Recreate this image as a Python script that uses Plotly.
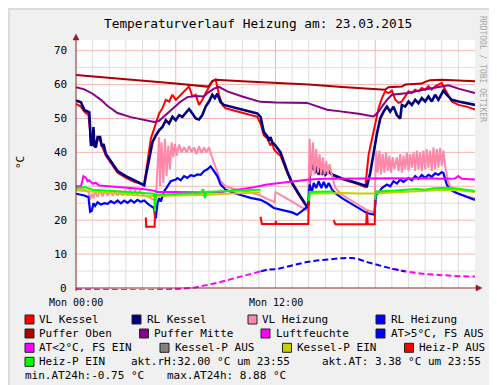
import plotly.graph_objects as go

# ---------------- data (hours since Mon 00:00) ----------------
vl_kessel_t = [0, 0.3, 0.5, 0.75, 0.85, 0.9, 1.0, 1.05, 1.1, 1.3, 1.45, 1.55, 1.8, 2.1, 2.5, 3.0, 3.5, 4.1, 4.3, 4.5,
               4.7, 4.9, 5.0, 5.2, 5.4, 5.6, 5.8, 6.0, 6.2, 6.4, 6.6, 6.8, 7.0, 7.2, 7.4, 7.6, 7.8, 8.0, 8.2, 8.4,
               8.6, 8.8, 9.0, 10.0, 10.9, 11.1, 11.3, 11.5, 11.7, 11.8, 11.9, 12.0, 12.3, 12.7, 13.0, 13.5, 13.9, 14.0, 14.05, 14.2,
               14.3, 14.4, 14.5, 14.6, 14.7, 14.8, 14.9, 15.0, 15.2, 15.4, 16.0, 17.0, 17.4, 17.6, 17.8, 18.0, 18.2, 18.4, 18.6, 18.8,
               19.0, 19.2, 19.4, 19.6, 19.8, 20.0, 20.2, 20.4, 20.6, 20.8, 21.0, 21.2, 21.4, 21.6, 21.8, 22.0, 22.1, 22.3, 22.6, 23.0,
               23.5, 24.0]
vl_kessel = [54.3, 53.5, 52.0, 51.0, 46.0, 42.5, 43.0, 46.5, 42.5, 44.0, 43.5, 42.0, 39.0, 36.8, 34.0, 32.5, 31.3, 30.5, 38.0, 44.0,
             47.0, 50.0, 51.5, 53.0, 55.5, 55.0, 57.0, 55.5, 56.5, 57.5, 58.5, 59.5, 56.5, 57.0, 54.0, 55.5, 57.5, 59.5, 61.0, 61.5,
             57.0, 54.0, 53.0, 51.7, 50.5, 48.5, 45.0, 44.2, 42.0, 43.0, 41.0, 40.3, 39.0, 34.0, 30.7, 26.7, 23.7, 24.7, 35.7, 34.8,
             36.3, 33.8, 35.8, 33.3, 35.3, 33.3, 34.8, 33.3, 34.3, 33.3, 32.1, 30.6, 29.8, 39.3, 44.0, 48.2, 53.0, 56.0, 58.0, 57.5,
             58.2, 55.6, 54.6, 55.0, 56.5, 58.0, 57.5, 58.5, 58.0, 59.0, 58.5, 59.5, 58.5, 59.5, 60.0, 60.5, 59.5, 57.5, 55.0, 54.0,
             53.5, 52.6]

rl_kessel_t = [0, 0.3, 0.5, 0.8, 0.85, 0.9, 1.0, 1.05, 1.1, 1.2, 1.3, 1.45, 1.55, 1.65, 1.8, 2.1, 2.5, 3.0, 3.5, 4.1,
               4.2, 4.4, 4.6, 4.8, 5.0, 5.2, 5.4, 5.6, 5.8, 6.0, 6.2, 6.4, 6.6, 6.8, 7.0, 7.2, 7.4, 7.6, 7.8, 8.0,
               8.2, 8.35, 8.5, 8.7, 8.9, 9.5, 10.0, 10.5, 10.9, 11.1, 11.3, 11.5, 11.6, 11.7, 11.8, 12.0, 12.3, 12.7, 13.0, 13.5,
               13.9, 14.0, 14.05, 14.2, 14.3, 14.4, 14.5, 14.6, 14.7, 14.8, 14.9, 15.0, 15.2, 15.4, 16.0, 17.0, 17.5, 17.7, 17.9, 18.1,
               18.3, 18.5, 18.7, 18.9, 19.1, 19.3, 19.5, 19.6, 19.8, 20.0, 20.2, 20.4, 20.6, 20.8, 21.0, 21.2, 21.4, 21.6, 21.8, 22.0,
               22.1, 22.3, 22.6, 23.0, 23.5, 24.0]
rl_kessel = [55.3, 54.8, 52.5, 51.8, 47.0, 42.0, 42.5, 47.5, 42.0, 41.5, 44.5, 44.5, 41.8, 42.5, 39.5, 37.5, 34.5, 33.0, 31.8, 30.3,
             33.0, 38.5, 43.0, 45.0, 46.5, 47.5, 49.5, 48.5, 50.5, 49.5, 51.0, 50.5, 51.5, 52.8, 51.5, 50.0, 49.7, 51.0, 53.5, 55.0,
             57.0, 56.0, 57.3, 54.8, 54.0, 53.2, 52.5, 52.0, 51.5, 50.5, 46.0, 44.8, 43.5, 44.5, 43.0, 42.0, 40.0, 34.5, 31.0, 27.0,
             24.0, 25.0, 36.0, 35.0, 36.5, 34.0, 36.0, 33.5, 35.5, 33.5, 35.0, 33.5, 34.5, 33.5, 32.3, 30.8, 30.0, 34.0, 40.0, 45.5,
             50.0, 52.0, 53.5, 52.0, 53.5, 51.0, 50.0, 54.0, 53.5, 55.0, 54.0, 55.5, 54.5, 56.0, 55.0, 56.5, 55.0, 57.0, 55.5, 57.5,
             58.2, 57.0, 55.5, 55.0, 54.5, 54.0]

vl_heizung_t = [0, 0.3, 0.5, 0.75, 0.85, 0.95, 1.05, 1.15, 1.3, 1.45, 1.6, 1.75, 1.9, 2.05, 2.2, 2.35, 2.5, 2.65, 2.8, 2.95,
                3.1, 3.25, 3.4, 3.55, 3.7, 3.85, 4.0, 4.3, 4.6, 4.8, 4.9, 5.0, 5.05, 5.15, 5.25, 5.35, 5.45, 5.55, 5.65, 5.75,
                5.85, 5.95, 6.05, 6.2, 6.35, 6.5, 6.65, 6.8, 6.95, 7.1, 7.25, 7.4, 7.55, 7.7, 7.85, 8.0, 8.15, 8.3, 8.5, 8.7,
                9.0, 9.5, 10.0, 10.5, 11.0, 11.5, 11.95, 12.0, 12.5, 13.0, 13.5, 13.95, 14.0, 14.05, 14.15, 14.25, 14.35, 14.45, 14.55, 14.65,
                14.75, 14.85, 14.95, 15.05, 15.15, 15.25, 15.4, 15.6, 16.0, 16.5, 17.0, 17.5, 17.95, 18.0, 18.05, 18.15, 18.25, 18.35, 18.45, 18.55,
                18.65, 18.75, 18.85, 18.95, 19.05, 19.15, 19.3, 19.4, 19.5, 19.6, 19.7, 19.8, 19.9, 20.0, 20.1, 20.2, 20.3, 20.4, 20.5, 20.6,
                20.7, 20.8, 20.9, 21.0, 21.1, 21.2, 21.3, 21.4, 21.5, 21.6, 21.7, 21.8, 21.9, 22.0, 22.1, 22.2, 22.4, 22.7, 23.0, 23.5,
                24.0]
vl_heizung = [29.5, 29.3, 29.0, 28.5, 26.0, 27.8, 26.5, 28.5, 26.8, 28.8, 27.0, 28.8, 27.2, 28.8, 27.2, 28.8, 27.3, 28.8, 27.3, 28.8,
              27.3, 28.8, 27.4, 28.7, 27.5, 28.6, 27.5, 27.0, 26.2, 26.0, 34.0, 44.5, 30.0, 43.0, 31.0, 44.0, 33.0, 42.0, 35.0, 43.0,
              38.5, 42.5, 39.0, 42.3, 40.0, 41.5, 40.0, 41.8, 40.2, 41.5, 39.5, 41.8, 39.8, 41.5, 40.0, 41.5, 39.0, 37.0, 34.0, 31.5,
              30.0, 29.2, 28.7, 28.2, 27.5, 26.3, 25.3, 28.3, 27.0, 25.5, 24.0, 22.8, 30.0, 44.0, 33.0, 43.0, 33.5, 41.0, 34.0, 39.5,
              33.5, 38.5, 33.5, 37.5, 33.5, 36.5, 33.0, 29.5, 27.5, 26.0, 24.5, 23.0, 22.3, 30.0, 40.5, 34.0, 40.5, 33.5, 39.5, 34.0,
              40.0, 34.5, 39.0, 34.0, 38.5, 35.0, 38.5, 34.5, 39.5, 34.0, 39.0, 35.0, 40.0, 34.5, 39.5, 35.5, 40.0, 34.5, 40.5, 35.0,
              40.0, 34.5, 40.5, 35.0, 41.0, 35.5, 40.5, 34.5, 41.5, 35.0, 41.0, 35.5, 41.3, 36.0, 40.5, 36.0, 31.0, 28.5, 27.8, 27.0,
              26.5]

rl_heizung_t = [0, 0.5, 0.75, 0.8, 0.85, 0.95, 1.05, 1.15, 1.3, 1.5, 1.7, 1.9, 2.1, 2.3, 2.5, 2.7, 2.9, 3.1, 3.3, 3.5,
                3.7, 3.9, 4.1, 4.4, 4.7, 4.75, 4.8, 4.9, 5.0, 5.1, 5.3, 5.5, 5.7, 6.0, 6.1, 6.3, 6.5, 6.7, 6.9, 7.1,
                7.3, 7.5, 7.7, 7.9, 8.1, 8.3, 8.5, 8.7, 9.0, 9.5, 10.0, 10.5, 11.1, 11.5, 11.9, 12.5, 13.0, 13.3, 13.6, 13.95,
                14.0, 14.05, 14.2, 14.3, 14.45, 14.6, 14.75, 14.9, 15.05, 15.2, 15.4, 15.6, 16.0, 16.5, 17.0, 17.5, 17.95, 18.05, 18.2, 18.4,
                18.7, 18.9, 19.1, 19.3, 19.5, 19.7, 20.0, 20.2, 20.4, 20.6, 20.8, 21.0, 21.2, 21.4, 21.6, 21.8, 22.0, 22.1, 22.3, 22.5,
                22.9, 23.5, 24.0]
rl_heizung = [27.8, 27.3, 26.8, 24.0, 22.5, 22.8, 25.0, 24.2, 25.3, 24.6, 25.0, 24.8, 25.6, 25.0, 25.8, 25.0, 25.8, 25.1, 25.9, 25.2,
              26.0, 25.4, 25.8, 24.5, 23.6, 21.5, 20.5, 25.0, 26.5, 25.5, 28.5, 30.0, 31.5, 32.0, 32.4, 31.8, 33.0, 32.5, 33.3, 33.0,
              33.5, 33.4, 34.5, 35.0, 35.9, 34.5, 33.0, 30.5, 29.0, 28.0, 27.3, 26.6, 26.0, 25.0, 23.6, 23.0, 22.3, 21.6, 22.8, 24.1,
              26.0, 30.5, 28.5, 31.0, 29.5, 31.5, 29.5, 31.3, 29.5, 31.0, 29.0, 28.0, 26.5, 25.0, 23.5, 22.1, 21.6, 27.5, 28.0, 29.5,
              30.5, 30.0, 31.5, 30.8, 32.0, 31.3, 32.4, 31.8, 33.0, 32.2, 33.3, 32.5, 33.4, 32.8, 33.8, 33.4, 34.2, 33.9, 30.5, 29.0,
              28.0, 26.8, 26.0]

puffer_oben_t = [0, 2, 4, 6, 7.9, 8.0, 8.2, 8.4, 10, 12, 14, 16, 18, 18.6, 18.8, 19.6, 19.8, 20.8, 21.0, 21.3, 22, 23, 24]
puffer_oben = [62.8, 62.0, 61.1, 60.3, 59.4, 59.6, 61.0, 61.4, 61.0, 60.6, 60.0, 59.3, 58.7, 58.5, 59.2, 59.4, 60.0, 60.3, 60.8, 61.3,
               61.4, 61.2, 61.0]

puffer_mitte_t = [0, 0.5, 1.0, 1.5, 1.9, 2.5, 3.3, 4.0, 4.7, 5.0, 5.5, 5.9, 6.3, 6.7, 7.2, 7.7, 7.9, 8.3, 8.6, 9.1,
                  10.0, 11.1, 12.0, 13.9, 14.5, 15.1, 15.9, 17.0, 17.9, 18.2, 18.4, 18.7, 19.0, 20.0, 20.9, 22.0, 22.4, 23.0, 24.0]
puffer_mitte = [59.2, 58.6, 57.3, 55.5, 53.7, 51.6, 50.4, 49.8, 49.0, 49.3, 51.5, 53.1, 55.0, 56.3, 56.6, 56.5, 57.5, 58.8, 59.3, 58.0,
                56.5, 54.9, 54.7, 54.6, 53.6, 52.6, 52.1, 51.4, 50.6, 52.0, 53.5, 55.5, 57.0, 57.5, 58.5, 59.5, 59.8, 58.8, 57.5]

luftfeuchte_t = [0, 0.3, 0.45, 0.6, 0.7, 0.8, 1.0, 1.2, 1.4, 2.0, 3.0, 4.0, 4.6, 4.9, 6.0, 7.0, 8.0, 8.8, 9.0, 10.0,
                 10.7, 11.5, 12.0, 12.5, 13.0, 13.5, 14.0, 15.0, 16.0, 17.0, 18.0, 19.0, 20.0, 21.0, 22.0, 22.8, 23.0, 23.2, 24.0]
luftfeuchte = [30.0, 30.0, 33.0, 32.5, 31.5, 31.8, 30.8, 31.0, 30.2, 30.0, 29.5, 29.2, 28.8, 28.3, 28.3, 28.2, 28.2, 28.3, 28.5, 29.2,
               29.7, 30.5, 30.8, 31.2, 31.5, 31.8, 32.0, 32.2, 32.3, 32.3, 32.3, 32.4, 32.3, 32.4, 32.2, 32.3, 33.0, 32.2, 32.0]

aussen_t = [0, 1, 2, 3, 4, 5, 6, 7.1, 7.9, 8.5, 9.0, 9.9, 10.3, 11.1, 11.5, 12.1, 12.9, 13.9, 14.5, 15.0,
            16.0, 16.6, 17.0, 17.6, 18.4, 19.0, 19.8, 21.0, 22.0, 23.0, 24.0]
aussen = [-0.4, -0.4, -0.5, -0.6, -0.7, -0.6, -0.3, 0.1, 0.8, 1.5, 2.2, 3.4, 3.9, 4.9, 5.4, 5.6, 6.6, 7.7, 8.1, 8.4,
          8.8, 8.88, 8.5, 7.5, 6.4, 5.7, 4.9, 4.1, 3.7, 3.5, 3.38]
at_limit = 5.0

kessel_p_ein_t = [0, 1, 2, 3, 4, 4.7, 6, 7, 8, 9, 10, 11.1, 12.5, 14.0, 15.5, 16.0, 17.0, 18.0, 19, 20,
                  21, 22, 23, 24]
kessel_p_ein = [28.8, 28.4, 27.8, 27.5, 27.2, 27.1, 27.2, 27.3, 27.5, 27.8, 28.0, 28.2, None, 27.8, 28.0, 28.0, 27.9, 27.9, 28.2, 28.4,
                28.6, 28.9, 28.8, 28.3]

heiz_p_aus_t = [4.2, 4.22, 4.73, 4.75, 8.0, 11.1, 11.18, 12.0, 12.02, 12.05, 13.97, 14.0, 14.8, 15.5, 15.6, 17.45, 17.5, 17.55, 17.97, 18.0]
heiz_p_aus = [20.8, 18.1, 18.1, 22.6, None, 21.0, 18.9, 18.9, 19.8, 18.9, 18.9, 25.6, None, 20.0, 18.8, 18.8, 22.6, 18.8, 18.8, 26.0]

heiz_p_ein_t = [0, 0.5, 1.0, 2.0, 3.0, 4.0, 4.7, 4.75, 4.8, 5.5, 6.5, 7.5, 7.65, 7.75, 7.85, 8.5, 9.5, 10.5, 11.1, 12.5,
                14.0, 14.05, 14.7, 15.45, 16.5, 18.0, 18.05, 19.0, 20.0, 20.5, 21.0, 21.5, 22.0, 22.5, 23.0, 23.5, 24.0]
heiz_p_ein = [29.5, 29.8, 29.0, 28.6, 28.3, 28.0, 27.8, 22.6, 27.5, 27.6, 27.8, 28.0, 29.2, 26.5, 28.3, 28.5, 28.7, 28.9, 29.0, None,
              25.6, 28.3, 28.4, 28.5, None, 26.0, 28.5, 28.7, 28.9, 29.2, 29.0, 29.4, 29.5, 29.6, 29.3, 29.0, 28.6]

y_ticks = [0, 10, 20, 30, 40, 50, 60, 70]
x_ticks = [0, 12]
x_tick_labels = ["Mon 00:00", "Mon 12:00"]

legend_items = [
    ("VL Kessel", "#FF0000"), ("RL Kessel", "#000080"), ("VL Heizung", "#FF88AA"), ("RL Heizung", "#0000FF"),
    ("Puffer Oben", "#AA0000"), ("Puffer Mitte", "#880088"), ("Luftfeuchte", "#FF00FF"), ("AT>5°C, FS AUS", "#0000FF"),
    ("AT<2°C, FS EIN", "#FF00FF"), ("Kessel-P AUS", "#808080"), ("Kessel-P EIN", "#CCCC00"), ("Heiz-P AUS", "#FF0000"),
    ("Heiz-P EIN", "#00FF00"),
]
legend_texts = ["akt.rH:32.00 °C um 23:55", "akt.AT: 3.38 °C um 23:55", "min.AT24h:-0.75 °C", "max.AT24h: 8.88 °C"]
watermark = "RRDTOOL / TOBI OETIKER"

# ---------------- layout geometry (pixels) ----------------
W, H = 497, 385
L, R, T, B = 68, 467, 32, 282
Y0, Y1 = -0.59, 73.15
MONO = "DejaVu Sans Mono"
LEG_FS = 11


def px(x):
    return (x - L) / (R - L)


def py(y):
    return (B - y) / (B - T)


fig = go.Figure()


def add_line(t, v, color, width=2.0, dash=None):
    assert len(t) == len(v), (len(t), len(v))
    fig.add_trace(go.Scatter(x=t, y=v, mode="lines", connectgaps=False, showlegend=False, hoverinfo="skip",
                             line=dict(color=color, width=width, dash=dash)))


add_line(vl_kessel_t, vl_kessel, "#FF0000", 2)
add_line(rl_kessel_t, rl_kessel, "#000080", 2.6)
add_line(vl_heizung_t, vl_heizung, "#FF88AA", 2)
add_line(rl_heizung_t, rl_heizung, "#0000FF", 2.2)
add_line(puffer_oben_t, puffer_oben, "#AA0000", 2)
add_line(puffer_mitte_t, puffer_mitte, "#880088", 2)
add_line(luftfeuchte_t, luftfeuchte, "#FF00FF", 2)

# outside temperature, coloured by threshold
warm = [v >= at_limit for v in aussen]
n = len(aussen)
at_warm = [aussen[i] if (warm[i] or (i > 0 and warm[i - 1]) or (i < n - 1 and warm[i + 1])) else None for i in range(n)]
at_cold = [aussen[i] if ((not warm[i]) or (i > 0 and not warm[i - 1]) or (i < n - 1 and not warm[i + 1])) else None for i in range(n)]
add_line(aussen_t, at_cold, "#FF00FF", 2, "6px,3px")
add_line(aussen_t, at_warm, "#0000FF", 2, "6px,3px")

add_line(kessel_p_ein_t, kessel_p_ein, "#CCCC00", 2)
add_line(heiz_p_aus_t, heiz_p_aus, "#FF0000", 2)
add_line(heiz_p_ein_t, heiz_p_ein, "#00FF00", 2)

shapes = []
GRID = "#DEDEDE"
MGRID = "#F7B5B5"
for h in range(1, 24):
    shapes.append(dict(type="line", xref="x", yref="y", x0=h, x1=h, y0=0, y1=Y1, layer="below",
                       line=dict(color=MGRID if h % 6 == 0 else GRID, width=1)))
for v in range(5, 73, 5):
    shapes.append(dict(type="line", xref="x", yref="y", x0=0, x1=24, y0=v, y1=v, layer="below",
                       line=dict(color=MGRID if v % 10 == 0 else GRID, width=1)))

AX = "#8B2222"
# axes with arrows
shapes.append(dict(type="line", xref="paper", yref="paper", x0=px(68), x1=px(470), y0=py(280), y1=py(280),
                   line=dict(color=AX, width=1)))
shapes.append(dict(type="line", xref="paper", yref="paper", x0=px(68), x1=px(68), y0=py(283), y1=py(30),
                   line=dict(color=AX, width=1)))


def tri(pts):
    p = "M " + " L ".join(f"{px(a):.5f},{py(b):.5f}" for a, b in pts) + " Z"
    return dict(type="path", xref="paper", yref="paper", path=p, fillcolor=AX, line=dict(color=AX, width=0.5))


shapes.append(tri([(474, 280), (468, 277), (468, 283)]))
shapes.append(tri([(68, 26), (65, 32), (71, 32)]))

# frame
shapes.append(dict(type="rect", xref="paper", yref="paper", x0=px(0), x1=px(W), y0=py(0), y1=py(2),
                   fillcolor="#DCDCDC", line=dict(width=0), layer="below"))
shapes.append(dict(type="rect", xref="paper", yref="paper", x0=px(0), x1=px(2), y0=py(0), y1=py(H),
                   fillcolor="#DCDCDC", line=dict(width=0), layer="below"))
shapes.append(dict(type="rect", xref="paper", yref="paper", x0=px(W - 2), x1=px(W), y0=py(0), y1=py(H),
                   fillcolor="#9E9E9E", line=dict(width=0), layer="below"))
shapes.append(dict(type="rect", xref="paper", yref="paper", x0=px(0), x1=px(W), y0=py(H - 2), y1=py(H),
                   fillcolor="#9E9E9E", line=dict(width=0), layer="below"))

annotations = []
annotations.append(dict(text="Temperaturverlauf Heizung am: 23.03.2015", xref="paper", yref="paper",
                        x=px(249.5), y=py(16), xanchor="center", yanchor="middle", showarrow=False,
                        font=dict(family=MONO, size=12.8, color="black")))
annotations.append(dict(text="°C", xref="paper", yref="paper", x=px(12), y=py(155), textangle=-90,
                        xanchor="center", yanchor="middle", showarrow=False,
                        font=dict(family=MONO, size=11, color="black")))
# vertical watermark at the right edge (reads top to bottom)
annotations.append(dict(text=watermark, xref="paper", yref="paper", x=px(475), y=py(61), textangle=90,
                        xanchor="center", yanchor="middle", showarrow=False,
                        font=dict(family=MONO, size=8, color="#A8A8A8")))
for v in y_ticks:
    annotations.append(dict(text=str(v), xref="paper", yref="y", x=px(61), y=v, xanchor="right", yanchor="middle",
                            showarrow=False, font=dict(family=MONO, size=11, color="black")))
for h, lab in zip(x_ticks, x_tick_labels):
    annotations.append(dict(text=lab, xref="x", yref="paper", x=h, y=py(294), xanchor="center", yanchor="middle",
                            showarrow=False, font=dict(family=MONO, size=10, color="black")))

# legend (manual, rrdtool style)
row_y = [311, 325, 339.3, 353.3, 367.3]
sq_pos = [(17, 30), (124, 138), (240, 253), (368, 382),
          (17, 30), (131.5, 145), (253, 266.7), (368, 382),
          (17, 30), (152, 166), (274.5, 288.3), (396.5, 410),
          (17, 30)]
for i, ((label, col), (sx, tx)) in enumerate(zip(legend_items, sq_pos)):
    yc = row_y[i // 4]
    shapes.append(dict(type="rect", xref="paper", yref="paper", x0=px(sx), x1=px(sx + 9),
                       y0=py(yc + 5), y1=py(yc - 4), fillcolor=col, line=dict(color="#222222", width=1)))
    annotations.append(dict(text=label, xref="paper", yref="paper", x=px(tx - 1), y=py(yc), xanchor="left",
                            yanchor="middle", showarrow=False, font=dict(family=MONO, size=LEG_FS, color="black")))
text_pos = [(122.3, 3), (312.7, 3), (16, 4), (158, 4)]
for txt, (tx, r) in zip(legend_texts, text_pos):
    annotations.append(dict(text=txt, xref="paper", yref="paper", x=px(tx - 1), y=py(row_y[r]), xanchor="left",
                            yanchor="middle", showarrow=False, font=dict(family=MONO, size=LEG_FS, color="black")))

fig.update_layout(
    width=W, height=H,
    margin=dict(l=L, r=W - R, t=T, b=H - B, pad=0),
    paper_bgcolor="#F0F0F0", plot_bgcolor="#FFFFFF",
    showlegend=False,
    xaxis=dict(range=[0, 24], showgrid=False, zeroline=False, showline=False, showticklabels=False, fixedrange=True),
    yaxis=dict(range=[Y0, Y1], showgrid=False, zeroline=False, showline=False, showticklabels=False, fixedrange=True),
    shapes=shapes, annotations=annotations,
    font=dict(family=MONO),
)

fig.write_html("out.html")
